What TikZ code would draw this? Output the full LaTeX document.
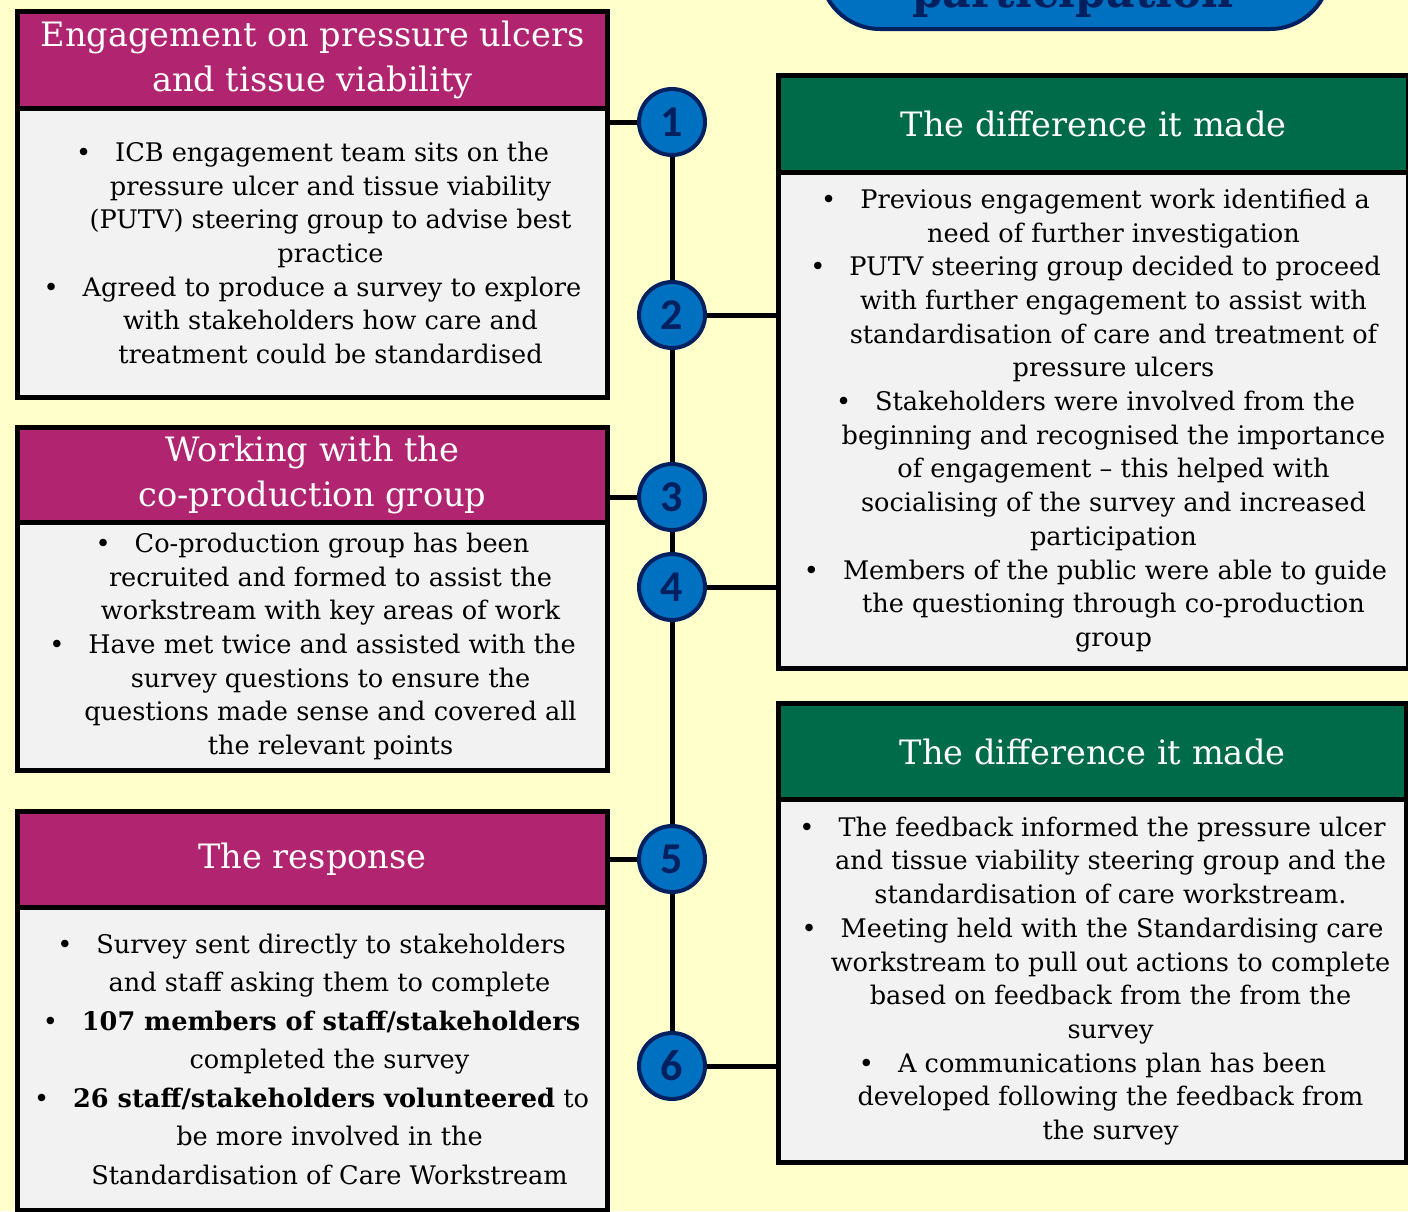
\documentclass[tikz,border=0pt]{standalone}
\usepackage{fontspec}
\setmainfont{DejaVu Serif}
\newfontfamily\numfont{Carlito}
\definecolor{bgc}{HTML}{FFFFCC}
\definecolor{magc}{HTML}{B02470}
\definecolor{grnc}{HTML}{006B48}
\definecolor{bodyc}{HTML}{F2F2F2}
\definecolor{bluec}{HTML}{0070C0}
\definecolor{navyc}{HTML}{002060}
\newcommand{\bul}{•\hspace{12pt}}
\newcommand{\eb}{\hbox to 18pt{}}
\begin{document}
\begin{tikzpicture}[x=0.5pt,y=-0.5pt,
  boxbase/.style={draw=black, line width=2.5pt, inner sep=0pt, anchor=north west},
  hdrL/.style={boxbase, fill=magc},
  hdrR/.style={boxbase, fill=grnc},
  bodybox/.style={boxbase, fill=bodyc},
  hdrtext/.style={text=white, align=center, inner sep=0pt, font=\fontsize{16.8}{22.5}\selectfont},
  bodytext/.style={text=black, align=center, inner sep=0pt, font=\fontsize{12.8}{16.85}\selectfont},
  num/.style={circle, draw=navyc, line width=2pt, fill=bluec, minimum size=33pt, inner sep=0pt, text=navyc, font=\numfont\bfseries\fontsize{22}{22}\selectfont},
  conn/.style={draw=black, line width=2.5pt},
  banner/.style={draw=navyc, line width=2pt, fill=bluec, rounded corners=30pt, inner sep=0pt}
]
\useasboundingbox (0,0) rectangle (1408,1211);
\fill[bgc] (0,0) rectangle (1408,1211);

% top banner (cut by page edge)
\begin{scope}
\clip (0,0) rectangle (1408,1211);
\node[banner, anchor=south, minimum width=255pt, minimum height=80pt] (ban) at (1075,31) {};
\node[anchor=base, inner sep=0pt, text=navyc, font=\bfseries\fontsize{24}{24}\selectfont] (bantext) at (1073,7) {\scalebox{0.92}[1]{participation}};
\end{scope}

% left boxes
\node[bodybox, minimum width=295pt, minimum height=144.5pt] (L1b) at (15,106) {};
\node[hdrL, minimum width=295pt, minimum height=48.5pt] (L1h) at (15,9) {};
\node[hdrtext] (L1ht) at (L1h.center) {Engagement on pressure ulcers\\and tissue viability};
\node[bodytext] (L1t) at ([xshift=9pt]L1b.center) {\bul ICB engagement team sits on the\eb\\pressure ulcer and tissue viability\\(PUTV) steering group to advise best\\practice\\\bul Agreed to produce a survey to explore\eb\\with stakeholders how care and\\treatment could be standardised};

\node[bodybox, minimum width=295pt, minimum height=124pt] (L2b) at (15,520) {};
\node[hdrL, minimum width=295pt, minimum height=47.5pt] (L2h) at (15,425) {};
\node[hdrtext] (L2ht) at (L2h.center) {Working with the\\co-production group};
\node[bodytext] (L2t) at ([xshift=9pt]L2b.center) {\bul Co-production group has been\eb\\recruited and formed to assist the\\workstream with key areas of work\\\bul Have met twice and assisted with the\eb\\survey questions to ensure the\\questions made sense and covered all\\the relevant points};

\node[bodybox, minimum width=295pt, minimum height=151.5pt] (L3b) at (15,905) {};
\node[hdrL, minimum width=295pt, minimum height=48pt] (L3h) at (15,809) {};
\node[hdrtext] (L3ht) at (L3h.center) {The response};
\node[bodytext, font=\fontsize{12.8}{19.25}\selectfont] (L3t) at ([xshift=8.5pt]L3b.center) {\bul Survey sent directly to stakeholders\eb\\and staff asking them to complete\\\bul \textbf{107 members of staff/stakeholders}\eb\\completed the survey\\\bul \textbf{26 staff/stakeholders volunteered} to\eb\\be more involved in the\\Standardisation of Care Workstream};

% right boxes
\node[bodybox, minimum width=315pt, minimum height=248pt] (R1b) at (776,170) {};
\node[hdrR, minimum width=315pt, minimum height=48.5pt] (R1h) at (776,73) {};
\node[hdrtext] (R1ht) at (R1h.center) {The difference it made};
\node[bodytext] (R1t) at ([xshift=10pt]R1b.center) {\bul Previous engagement work identified a\eb\\need of further investigation\\\bul PUTV steering group decided to proceed\eb\\with further engagement to assist with\\standardisation of care and treatment of\\pressure ulcers\\\bul Stakeholders were involved from the\eb\\beginning and recognised the importance\\of engagement – this helped with\\socialising of the survey and increased\\participation\\\bul Members of the public were able to guide\eb\\the questioning through co-production\\group};

\node[bodybox, minimum width=314pt, minimum height=181.5pt] (R2b) at (776,797) {};
\node[hdrR, minimum width=314pt, minimum height=48pt] (R2h) at (776,701) {};
\node[hdrtext] (R2ht) at (R2h.center) {The difference it made};
\node[bodytext] (R2t) at ([xshift=9pt]R2b.center) {\bul The feedback informed the pressure ulcer\eb\\and tissue viability steering group and the\\standardisation of care workstream.\\\bul Meeting held with the Standardising care\eb\\workstream to pull out actions to complete\\based on feedback from the from the\\survey\\\bul A communications plan has been\eb\\developed following the feedback from\\the survey};

% numbered circles
\node[num] (c1) at (672,122) {1};
\node[num] (c2) at (672,315) {2};
\node[num] (c3) at (672,497) {3};
\node[num] (c4) at (672,587) {4};
\node[num] (c5) at (672,859) {5};
\node[num] (c6) at (672,1066) {6};

% spine
\draw[conn] (c1) -- (c2);
\draw[conn] (c2) -- (c3);
\draw[conn] (c3) -- (c4);
\draw[conn] (c4) -- (c5);
\draw[conn] (c5) -- (c6);

% branches
\draw[conn] (c1.west) -- (c1.west -| L1b.east);
\draw[conn] (c2.east) -- (c2.east -| R1b.west);
\draw[conn] (c3.west) -- (c3.west -| L2h.east);
\draw[conn] (c4.east) -- (c4.east -| R1b.west);
\draw[conn] (c5.west) -- (c5.west -| L3h.east);
\draw[conn] (c6.east) -- (c6.east -| R2b.west);
\end{tikzpicture}
\end{document}
